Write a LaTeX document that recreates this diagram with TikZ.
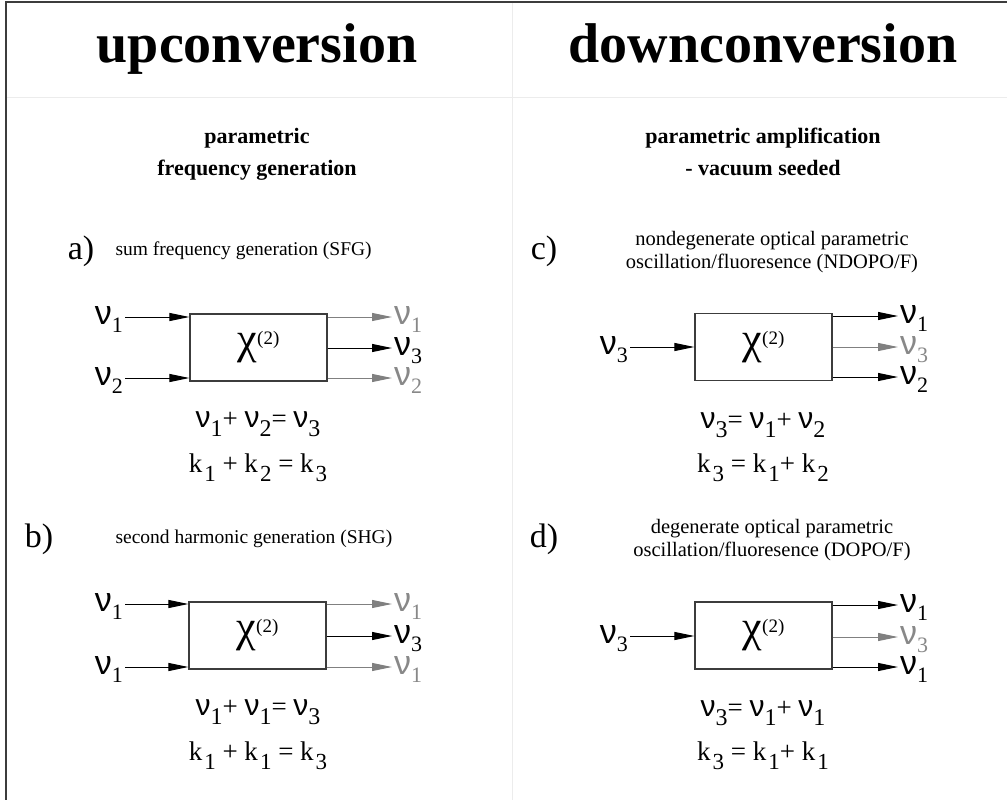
\documentclass[tikz,border=0pt]{standalone}
\usepackage{fontspec}
\setmainfont{Liberation Serif}
\newfontfamily\grk{Liberation Sans}
\usetikzlibrary{arrows.meta}
\definecolor{outgray}{RGB}{128,128,128}
\definecolor{labgray}{RGB}{136,136,136}
\definecolor{framegray}{RGB}{60,60,60}
\definecolor{faintgray}{RGB}{236,236,236}
% frequency labels, equation terms and the box symbol
\newcommand{\lab}[1]{{\grk\fontsize{34}{34}\selectfont ν}\lower8pt\hbox{\fontsize{22}{22}\selectfont #1}}
\newcommand{\nq}[1]{{\grk\fontsize{30}{30}\selectfont ν}\lower9pt\hbox{\fontsize{24}{24}\selectfont #1}}
\newcommand{\kq}[1]{k\kern2pt\lower9pt\hbox{\fontsize{23}{23}\selectfont #1}}
\newcommand{\chitwo}{{\fontsize{44}{44}\selectfont χ}\raise9pt\hbox{\fontsize{19}{19}\selectfont (2)}}

\begin{document}
\begin{tikzpicture}[x=1pt,y=-1pt,
  chibox/.style={draw=framegray,line width=1.2pt,minimum width=137pt,minimum height=67pt,inner sep=0pt},
  freqlab/.style={inner sep=0pt,inner xsep=2pt,text height=17pt,text depth=3pt},
  flow/.style={line width=1pt,-{Triangle[length=20pt,width=8pt]}},
  ttl/.style={font=\fontsize{56}{60}\selectfont\bfseries,anchor=base},
  subttl/.style={font=\fontsize{22}{26}\selectfont\bfseries,anchor=base},
  item/.style={font=\fontsize{34}{34}\selectfont,anchor=base},
  desc/.style={font=\fontsize{19.5}{23}\selectfont,anchor=base},
  eqn/.style={font=\fontsize{27}{27}\selectfont,anchor=base}]
  \clip (0,0) rectangle (1007,800);
  % Frame and dividers
  \draw[faintgray] (512,2) -- (512,800);
  \draw[faintgray] (6,97) -- (1007,97);
  \draw[framegray,line width=1.5pt] (6,2) rectangle (1030,830);
  % Titles
  \node[ttl] (up) at (257,63) {upconversion};
  \node[ttl] (down) at (763,63) {downconversion};
  \node[subttl] (upsub1) at (257,143) {parametric};
  \node[subttl] (upsub2) at (257,175) {frequency generation};
  \node[subttl] (dnsub1) at (763,143) {parametric amplification};
  \node[subttl] (dnsub2) at (763,175) {- vacuum seeded};
  % a) SFG
  \node[item] (a) at (81,259) {a)};
  \node[desc,anchor=base west] (adesc) at (112,255) {sum frequency generation (SFG)};
  \node[chibox] (boxa) at (258.5,347.5) {\chitwo};
  \node[freqlab,anchor=east] (ain1) at (125,317) {\lab{1}};
  \node[freqlab,anchor=east] (ain2) at (125,378) {\lab{2}};
  \node[freqlab,anchor=west,labgray] (aout1) at (392,317) {\lab{1}};
  \node[freqlab,anchor=west] (aout2) at (392,348) {\lab{3}};
  \node[freqlab,anchor=west,labgray] (aout3) at (392,378) {\lab{2}};
  \node[eqn] (aeq1) at (258,427) {\nq{1}+ \nq{2}= \nq{3}};
  \node[eqn] (aeq2) at (258,472) {\kq{1} + \kq{2} = \kq{3}};
  % b) SHG
  \node[item] (b) at (39,547) {b)};
  \node[desc,anchor=base west] (bdesc) at (112,543) {second harmonic generation (SHG)};
  \node[chibox] (boxb) at (257.5,635.5) {\chitwo};
  \node[freqlab,anchor=east] (bin1) at (125,604) {\lab{1}};
  \node[freqlab,anchor=east] (bin2) at (125,667) {\lab{1}};
  \node[freqlab,anchor=west,labgray] (bout1) at (392,604) {\lab{1}};
  \node[freqlab,anchor=west] (bout2) at (392,636) {\lab{3}};
  \node[freqlab,anchor=west,labgray] (bout3) at (392,667) {\lab{1}};
  \node[eqn] (beq1) at (258,715) {\nq{1}+ \nq{1}= \nq{3}};
  \node[eqn] (beq2) at (258,760) {\kq{1} + \kq{1} = \kq{3}};
  % c) NDOPO/F
  \node[item] (c) at (544,259) {c)};
  \node[desc,font=\fontsize{20.5}{24}\selectfont] (cdesc1) at (772,245) {nondegenerate optical parametric};
  \node[desc,font=\fontsize{20.5}{24}\selectfont] (cdesc2) at (772,268) {oscillation/fluoresence (NDOPO/F)};
  \node[chibox] (boxc) at (763.5,347) {\chitwo};
  \node[freqlab,anchor=east] (cin) at (630,347) {\lab{3}};
  \node[freqlab,anchor=west] (cout1) at (898,316) {\lab{1}};
  \node[freqlab,anchor=west,labgray] (cout2) at (898,347) {\lab{3}};
  \node[freqlab,anchor=west] (cout3) at (898,377) {\lab{2}};
  \node[eqn] (ceq1) at (763,428) {\nq{3}= \nq{1}+ \nq{2}};
  \node[eqn] (ceq2) at (763,472) {\kq{3} = \kq{1}+ \kq{2}};
  % d) DOPO/F
  \node[item] (d) at (544,547) {d)};
  \node[desc,font=\fontsize{20.5}{24}\selectfont] (ddesc1) at (772,533) {degenerate optical parametric};
  \node[desc,font=\fontsize{20.5}{24}\selectfont] (ddesc2) at (772,556) {oscillation/fluoresence (DOPO/F)};
  \node[chibox] (boxd) at (763.5,635.5) {\chitwo};
  \node[freqlab,anchor=east] (din) at (630,636) {\lab{3}};
  \node[freqlab,anchor=west] (dout1) at (898,605) {\lab{1}};
  \node[freqlab,anchor=west,labgray] (dout2) at (898,637) {\lab{3}};
  \node[freqlab,anchor=west] (dout3) at (898,667) {\lab{1}};
  \node[eqn] (deq1) at (763,716) {\nq{3}= \nq{1}+ \nq{1}};
  \node[eqn] (deq2) at (763,760) {\kq{3} = \kq{1}+ \kq{1}};
  % Arrows
  \draw[flow] (ain1) -- (ain1 -| boxa.west);
  \draw[flow] (ain2) -- (ain2 -| boxa.west);
  \draw[flow,outgray] (boxa.east |- aout1) -- (aout1);
  \draw[flow] (boxa.east |- aout2) -- (aout2);
  \draw[flow,outgray] (boxa.east |- aout3) -- (aout3);
  \draw[flow] (bin1) -- (bin1 -| boxb.west);
  \draw[flow] (bin2) -- (bin2 -| boxb.west);
  \draw[flow,outgray] (boxb.east |- bout1) -- (bout1);
  \draw[flow] (boxb.east |- bout2) -- (bout2);
  \draw[flow,outgray] (boxb.east |- bout3) -- (bout3);
  \draw[flow] (cin) -- (cin -| boxc.west);
  \draw[flow] (boxc.east |- cout1) -- (cout1);
  \draw[flow,outgray] (boxc.east |- cout2) -- (cout2);
  \draw[flow] (boxc.east |- cout3) -- (cout3);
  \draw[flow] (din) -- (din -| boxd.west);
  \draw[flow] (boxd.east |- dout1) -- (dout1);
  \draw[flow,outgray] (boxd.east |- dout2) -- (dout2);
  \draw[flow] (boxd.east |- dout3) -- (dout3);
\end{tikzpicture}
\end{document}
